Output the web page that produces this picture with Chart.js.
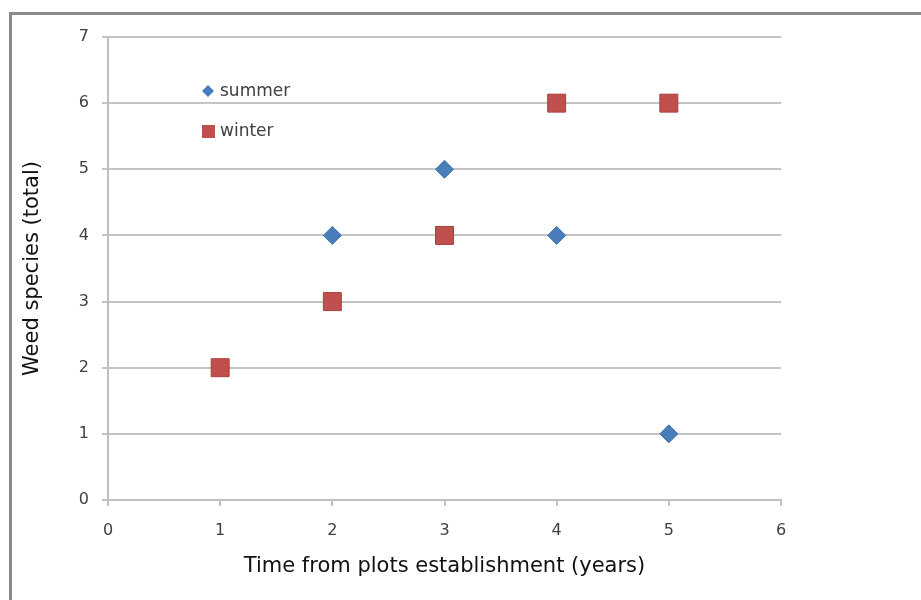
<!DOCTYPE html>
<html>
<head>
<meta charset="utf-8">
<script src="https://cdn.jsdelivr.net/npm/chart.js@4.4.1/dist/chart.umd.min.js"></script>
<style>
  html, body { margin: 0; padding: 0; background: #fff; }
  #wrap { position: relative; width: 921px; height: 600px; }
  #frame { position: absolute; left: 9px; top: 12px; width: 930px; height: 600px;
           border-left: 3px solid #8a8a8a; border-top: 3px solid #8a8a8a; box-sizing: border-box; }
  canvas { position: absolute; left: 0; top: 0; }
</style>
</head>
<body>
<div id="wrap">
  <div id="frame"></div>
  <canvas id="c" width="921" height="600"></canvas>
</div>
<script>
// Years since plot establishment
const years = [1, 2, 3, 4, 5];
// Total weed species recorded per season
const summerSpecies = [2, 4, 5, 4, 1];
const winterSpecies = [2, 3, 4, 6, 6];
const xTicks = [0, 1, 2, 3, 4, 5, 6];
const yTicks = [0, 1, 2, 3, 4, 5, 6, 7];

const FONT = '"DejaVu Sans", "Liberation Sans", sans-serif';
const BLUE = '#4a7ebb';
const RED = '#c0504d';

const toPoints = (xs, ys) => xs.map((x, i) => ({ x: x, y: ys[i] }));

// Legend drawn inside the plot area, upper left
const innerLegend = {
  id: 'innerLegend',
  afterDatasetsDraw(chart) {
    const ctx = chart.ctx;
    const items = chart.data.datasets.map(ds => ({ label: ds.label, color: ds.backgroundColor, style: ds.pointStyle }));
    const x0 = 208, ys = [91, 131];
    ctx.save();
    ctx.font = '17px ' + FONT;
    ctx.textBaseline = 'middle';
    items.forEach((it, i) => {
      const y = ys[i];
      ctx.fillStyle = it.color;
      ctx.beginPath();
      if (it.style === 'rectRot') {
        ctx.moveTo(x0, y - 6); ctx.lineTo(x0 + 6, y); ctx.lineTo(x0, y + 6); ctx.lineTo(x0 - 6, y);
        ctx.closePath();
      } else {
        ctx.rect(x0 - 6, y - 6, 13, 13);
      }
      ctx.fill();
      ctx.fillStyle = '#404040';
      ctx.fillText(it.label, x0 + 12, y + 1);
    });
    ctx.restore();
  }
};

new Chart(document.getElementById('c'), {
  type: 'scatter',
  data: {
    datasets: [
      { label: 'summer', data: toPoints(years, summerSpecies), order: 2, pointStyle: 'rectRot', pointRadius: 9, pointHoverRadius: 9,
        backgroundColor: BLUE, borderColor: '#3f6fa8', borderWidth: 1 },
      { label: 'winter', data: toPoints(years, winterSpecies), order: 1, pointStyle: 'rect', pointRadius: 12.7, pointHoverRadius: 12.7,
        backgroundColor: RED, borderColor: '#a8403d', borderWidth: 1 }
    ]
  },
  options: {
    responsive: false,
    animation: false,
    events: [],
    layout: { padding: { left: 0, top: 37, right: 140, bottom: 0 } },
    plugins: { legend: { display: false }, tooltip: { enabled: false } },
    scales: {
      x: {
        type: 'linear', min: 0, max: 6,
        afterBuildTicks: s => { s.ticks = xTicks.map(v => ({ value: v })); },
        afterFit: s => { s.height = 100; },
        border: { color: '#bfbfbf', width: 2 },
        grid: { drawOnChartArea: false, drawTicks: true, tickLength: 6, color: '#bfbfbf', lineWidth: 2 },
        ticks: { padding: 15, color: '#404040', font: { family: FONT, size: 16 } },
        title: { display: true, text: 'Time from plots establishment (years)', color: '#111',
                 font: { family: FONT, size: 21 }, padding: { top: 0, bottom: 21 } }
      },
      y: {
        type: 'linear', min: 0, max: 7,
        afterBuildTicks: s => { s.ticks = yTicks.map(v => ({ value: v })); },
        afterFit: s => { s.width = 108; },
        border: { color: '#bfbfbf', width: 2 },
        grid: { drawOnChartArea: true, drawTicks: true, tickLength: 6, color: '#c4c4c4', lineWidth: 2 },
        ticks: { padding: 13, color: '#404040', font: { family: FONT, size: 16 } },
        title: { display: true, text: 'Weed species (total)', color: '#111',
                 font: { family: FONT, size: 21 }, padding: { top: 20, bottom: 0 } }
      }
    }
  },
  plugins: [innerLegend]
});
</script>
</body>
</html>
